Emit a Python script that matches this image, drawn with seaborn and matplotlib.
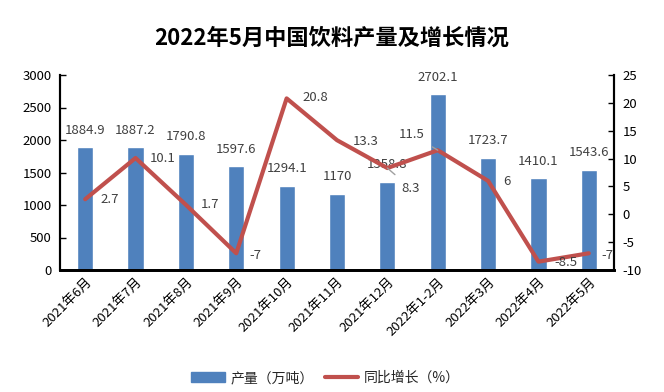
import matplotlib
matplotlib.use('Agg')
import matplotlib.pyplot as plt
from matplotlib.patches import Patch
from matplotlib.lines import Line2D
import seaborn as sns
import pandas as pd

months = ['2021年6月', '2021年7月', '2021年8月', '2021年9月', '2021年10月', '2021年11月',
          '2021年12月', '2022年1-2月', '2022年3月', '2022年4月', '2022年5月']
output = [1884.9, 1887.2, 1790.8, 1597.6, 1294.1, 1170, 1358.8, 2702.1, 1723.7, 1410.1, 1543.6]
growth = [2.7, 10.1, 1.7, -7, 20.8, 13.3, 8.3, 11.5, 6, -8.5, -7]
output_labels = ['1884.9', '1887.2', '1790.8', '1597.6', '1294.1', '1170', '1358.8', '2702.1', '1723.7', '1410.1', '1543.6']
growth_labels = ['2.7', '10.1', '1.7', '-7', '20.8', '13.3', '8.3', '11.5', '6', '-8.5', '-7']
title = '2022年5月中国饮料产量及增长情况'

sns.set_theme(style='white')
plt.rcParams['font.family'] = ['Noto Sans CJK SC', 'DejaVu Sans']
plt.rcParams['axes.unicode_minus'] = False

BAR = '#4F81BD'
LINE = '#C0504D'
TXT = '#404040'

df = pd.DataFrame({'月份': months, '产量': output, '增长': growth})

fig = plt.figure(figsize=(6.64, 3.92), dpi=100)
ax = fig.add_axes([60/664, 122/392, 554/664, 195/392])
sns.barplot(data=df, x='月份', y='产量', color=BAR, width=0.32, saturation=1, ax=ax)
ax2 = ax.twinx()
sns.pointplot(data=df, x='月份', y='增长', color=LINE, errorbar=None, markers='',
              linewidth=3, ax=ax2)

ax.set_ylim(0, 3000)
ax.set_yticks(range(0, 3001, 500))
ax2.set_ylim(-10, 25)
ax2.set_yticks(range(-10, 26, 5))
ax.set_xlim(-0.5, len(months) - 0.5)
ax.set_xticks(range(len(months)))
ax.set_xticklabels(months, rotation=45, ha='right', rotation_mode='anchor', fontsize=9.5, color='black')
for a in (ax, ax2):
    a.set_xlabel('')
    a.set_ylabel('')
    a.grid(False)
ax.tick_params(axis='y', direction='in', length=4, width=1, labelsize=9.5, pad=6, colors='black')
ax2.tick_params(axis='y', direction='in', length=4, width=1, labelsize=9.5, pad=6, colors='black')
ax.tick_params(axis='x', length=0, pad=4)
for a in (ax, ax2):
    a.spines['top'].set_visible(False)
    a.spines['left'].set_color('black')
    a.spines['right'].set_color('black')
    a.spines['bottom'].set_color('black')
    a.spines['left'].set_linewidth(1.5)
    a.spines['right'].set_linewidth(1.5)
    a.spines['bottom'].set_linewidth(2)

# bar value labels
for i, (v, lab) in enumerate(zip(output, output_labels)):
    ax.annotate(lab, (i, v), xytext=(0, 17), textcoords='offset pixels',
                ha='center', va='center', fontsize=9.5, color=TXT)

# line value labels (pixel offsets)
offsets = [(25, 0), (27, 0), (24, 0), (19, -2), (29, 1), (29, -1), (23, -20), (-26, 16), (19, -1), (27, -1), (19, -2)]
for i, (v, lab) in enumerate(zip(growth, growth_labels)):
    dx, dy = offsets[i]
    kw = {}
    if i in (6, 7):
        kw['arrowprops'] = dict(arrowstyle='-', color='#A0A0A0', lw=1, shrinkA=4, shrinkB=0)
    ax2.annotate(lab, (i, v), xytext=(dx, dy), textcoords='offset pixels',
                 ha='center', va='center', fontsize=9.5, color=TXT, **kw)

fig.text(0.5, 1 - 38/392, title, ha='center', va='center', fontsize=16, fontweight='bold', color='black')

handles = [Patch(facecolor=BAR, edgecolor=BAR), Line2D([0], [0], color=LINE, lw=3)]
fig.legend(handles, ['产量（万吨）', '同比增长（%）'], loc='center', bbox_to_anchor=(0.49, 1 - 378/392),
           ncol=2, frameon=False, fontsize=10, handlelength=2.4, handleheight=0.8, columnspacing=0.8,
           handletextpad=0.4)

fig.savefig('out.png', dpi=100)
